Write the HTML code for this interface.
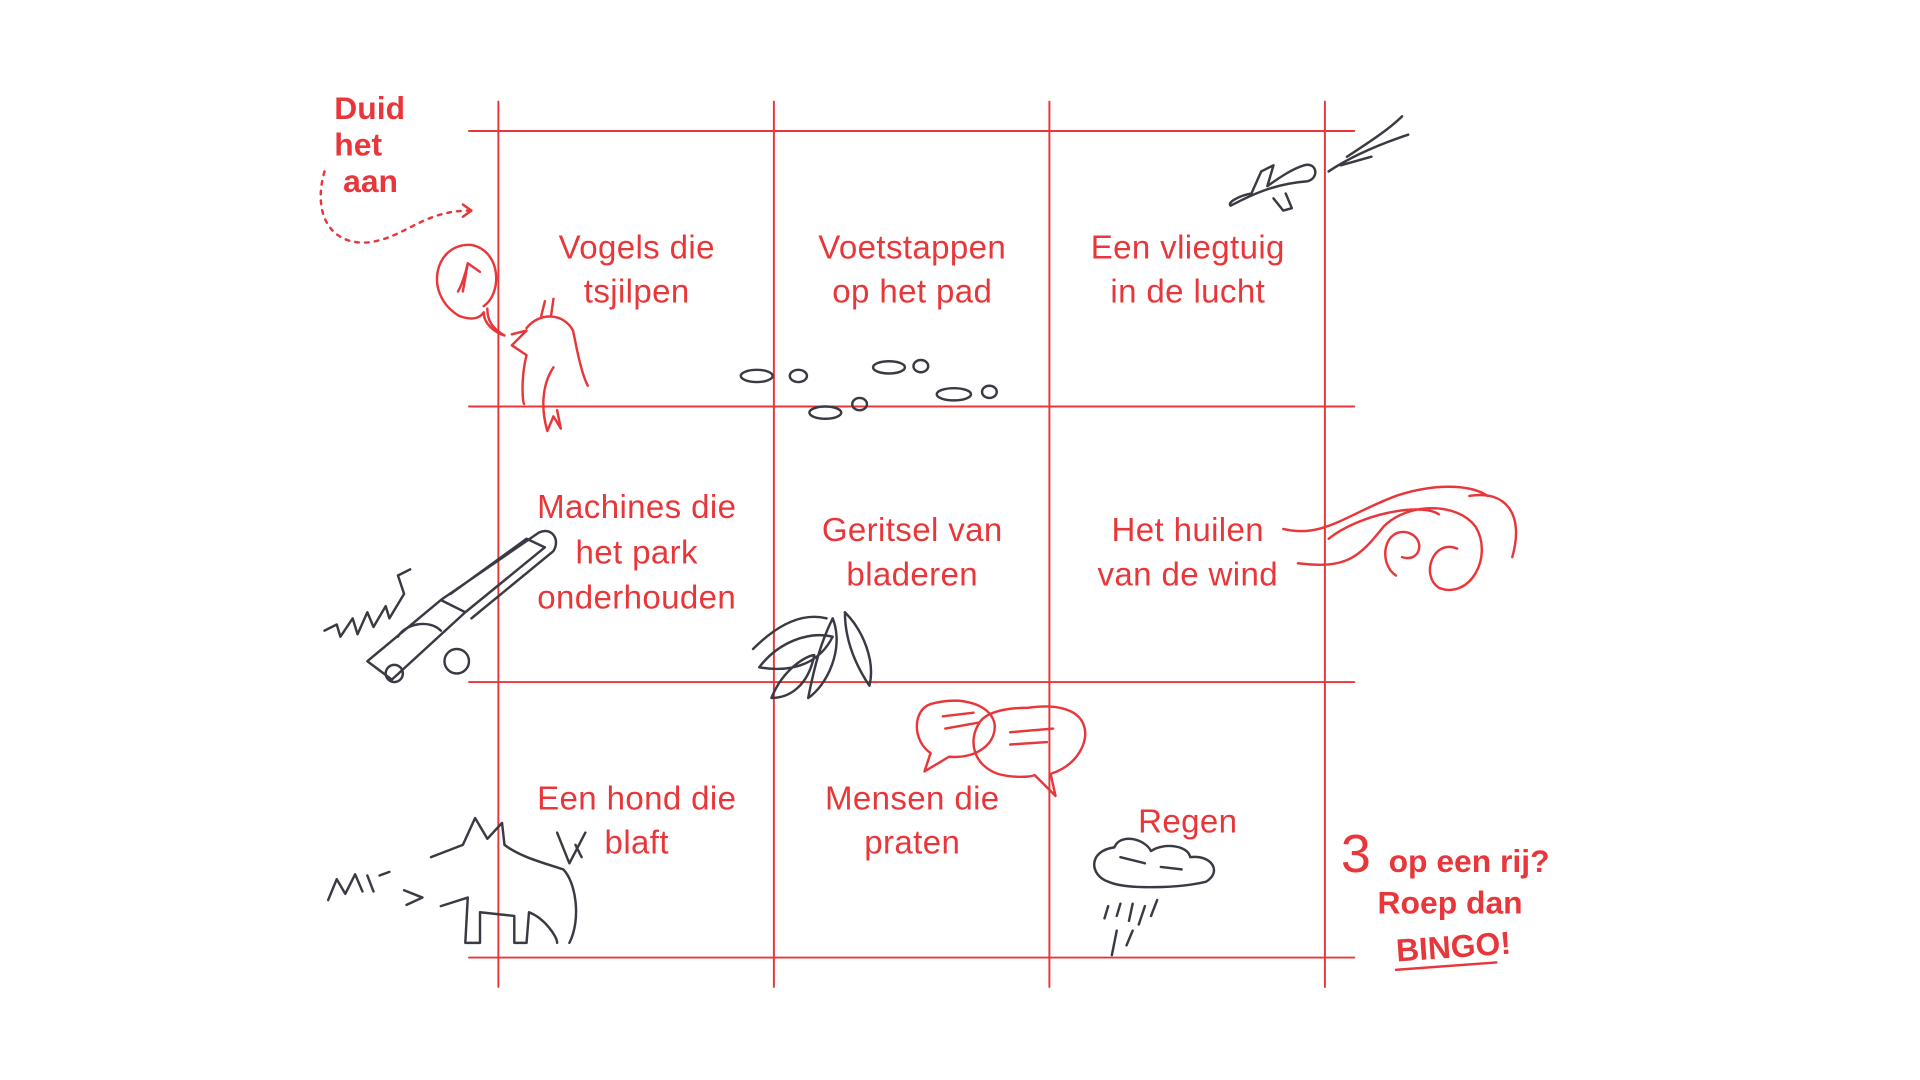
<!DOCTYPE html>
<html><head><meta charset="utf-8"><style>
html,body{margin:0;padding:0;background:#fff;width:1920px;height:1080px;overflow:hidden}
#w{position:absolute;left:0;top:0;width:1568px;height:882px;transform:scale(1.2245);transform-origin:0 0}
svg{position:absolute;left:0;top:0}
.t{position:absolute;font-family:"Liberation Sans",sans-serif;color:#e8373a;font-size:27px;line-height:36px;text-align:center;width:224px;letter-spacing:0.3px}
.b{position:absolute;font-family:"Liberation Sans",sans-serif;color:#e8373a;font-weight:bold;font-size:26px;line-height:30px}
</style></head><body><div id="w">
<svg width="1568" height="882" fill="none" stroke-linecap="round" stroke-linejoin="round">
<g stroke="#e8373a" stroke-width="1.6">
<line x1="407" y1="83" x2="407" y2="806"/><line x1="632" y1="83" x2="632" y2="806"/>
<line x1="857" y1="83" x2="857" y2="806"/><line x1="1082" y1="83" x2="1082" y2="806"/>
<line x1="383" y1="107" x2="1106" y2="107"/><line x1="383" y1="332" x2="1106" y2="332"/>
<line x1="383" y1="557" x2="1106" y2="557"/><line x1="383" y1="782" x2="1106" y2="782"/>
</g>
<g stroke="#e8373a" stroke-width="2">
<path d="M265 140 C255 175 270 200 300 198 C330 195 345 172 383 172" stroke-dasharray="3 5"/>
<path d="M378 167 L385 172 L378 177"/>
<path d="M395 250 C410 240 410 205 385 200 C355 198 345 240 375 258 C385 262 392 260 395 255 C395 265 405 272 412 274 C402 268 398 262 398 252"/>
<path d="M378 238 L382 215 L392 222 M382 215 C380 225 376 235 374 238"/>
<path d="M418 273 L430 270 L418 282 L430 290 C425 310 427 330 428 330 M430 268 C440 255 460 255 468 270 C472 290 475 305 480 315 M452 300 C442 315 442 335 447 352 L452 340 L458 350 L455 335 M442 258 L445 246 M450 258 L452 244"/>
<path d="M1048 432 C1080 440 1100 420 1140 405 C1170 395 1200 395 1215 405 M1060 460 C1100 465 1110 455 1130 430 C1150 410 1190 410 1205 430 C1220 455 1200 490 1175 480 C1160 470 1170 440 1190 448 M1085 440 C1110 420 1160 410 1175 420 M1200 405 C1230 400 1245 420 1235 455 M1140 470 C1125 460 1130 430 1150 435 C1165 440 1160 460 1145 455"/>
<path d="M760 575 C745 580 745 605 760 615 L755 630 L775 618 C800 620 815 605 812 590 C808 575 785 568 760 575 M800 590 C790 605 795 625 815 632 C825 635 840 635 845 633 L862 650 L858 632 C880 625 890 605 885 592 C880 578 860 575 840 578 C820 578 805 582 800 590 M770 585 L795 582 M772 595 L800 590 M825 598 L860 595 M825 608 L855 606"/>
<path d="M1140 792 L1222 786"/>
</g>
<g stroke="#3a3a44" stroke-width="2">
<ellipse cx="618" cy="307" rx="13" ry="5"/><ellipse cx="652" cy="307" rx="7" ry="5"/>
<ellipse cx="726" cy="300" rx="13" ry="5"/><ellipse cx="752" cy="299" rx="6" ry="5"/>
<ellipse cx="674" cy="337" rx="13" ry="5"/><ellipse cx="702" cy="330" rx="6" ry="5"/>
<ellipse cx="779" cy="322" rx="14" ry="5"/><ellipse cx="808" cy="320" rx="6" ry="5"/>
<path d="M1005 168 C1020 160 1040 150 1068 148 C1078 145 1075 132 1065 135 C1055 138 1045 145 1035 152 L1040 135 L1030 140 L1022 158 C1012 160 1002 165 1005 168 Z M1040 162 L1048 172 L1055 170 L1050 158"/>
<path d="M1085 140 C1100 130 1120 120 1150 110 M1095 135 L1120 128 M1100 128 C1120 115 1135 105 1145 95"/>
<path d="M300 540 L360 490 L380 500 L320 555 Z M360 490 L440 435 C450 430 458 440 452 450 L385 505 M368 485 L430 440 L445 447 L380 500 M325 520 C330 510 350 505 360 515"/>
<circle cx="322" cy="550" r="7"/><circle cx="373" cy="540" r="10"/>
<path d="M265 515 L275 510 L278 520 L288 505 L292 518 L300 500 L305 512 L315 495 L318 505 L330 485 L325 470 L335 465"/>
<path d="M352 700 L378 690 L388 668 L398 685 L410 672 L412 690 C425 700 445 705 460 710 C470 720 475 750 465 770 M360 740 L382 733 L380 770 L392 770 L392 745 L420 748 L420 770 L430 770 L432 745 C445 750 455 765 455 770 M470 690 L475 700 M455 680 L465 705 L478 680"/>
<path d="M268 735 L275 718 L282 730 L290 714 L296 728 M300 715 L305 728 M310 715 L318 712 M330 727 L345 733 L332 739"/>
<path d="M620 545 C635 525 660 515 680 520 C670 540 650 550 620 545 Z M630 570 C640 545 660 535 665 535 C660 560 645 570 630 570 Z M660 570 C665 545 670 525 680 505 C690 530 675 560 660 570 Z M690 500 C705 515 715 540 710 560 C700 545 690 525 690 500 Z M615 530 C635 510 655 500 675 505"/>
<path d="M905 720 C890 715 888 695 910 692 C915 680 935 685 940 695 C950 688 970 690 972 700 C990 698 998 712 985 720 C965 725 920 727 905 720 Z M915 700 L935 705 M948 708 L965 710"/>
<path d="M905 740 L902 750 M915 738 L912 748 M925 738 L922 752 M935 740 L930 755 M945 735 L940 748 M912 760 L908 780 M925 760 L920 772"/>
</g>
</svg>
<div class="b" style="left:273px;top:73px">Duid<br>het<br>&nbsp;aan</div>
<div class="t" style="left:408px;top:184px">Vogels die<br>tsjilpen</div>
<div class="t" style="left:633px;top:184px">Voetstappen<br>op het pad</div>
<div class="t" style="left:858px;top:184px">Een vliegtuig<br>in de lucht</div>
<div class="t" style="left:408px;top:396px;line-height:37px">Machines die<br>het park<br>onderhouden</div>
<div class="t" style="left:633px;top:415px">Geritsel van<br>bladeren</div>
<div class="t" style="left:858px;top:415px">Het huilen<br>van de wind</div>
<div class="t" style="left:408px;top:634px">Een hond die<br>blaft</div>
<div class="t" style="left:633px;top:634px">Mensen die<br>praten</div>
<div class="t" style="left:858px;top:653px">Regen</div>
<div class="b" style="left:1095px;top:673px;font-size:44px;line-height:50px;font-weight:normal">3</div>
<div class="b" style="left:1134px;top:688px">op een rij?</div>
<div class="b" style="left:1125px;top:722px">Roep dan</div>
<div class="b" style="left:1140px;top:758px;transform:rotate(-4deg)">BINGO!</div>
</div></body></html>
